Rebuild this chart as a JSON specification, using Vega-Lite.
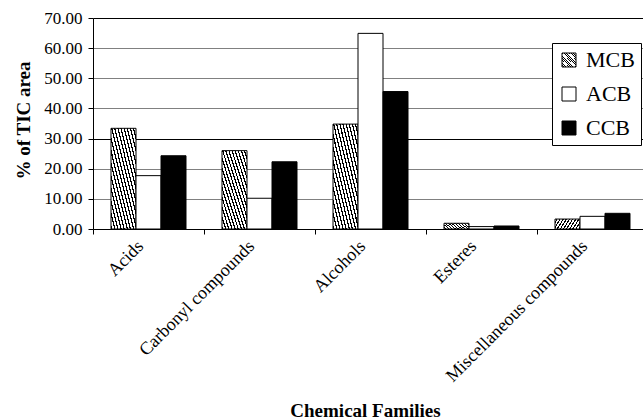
{
  "$schema": "https://vega.github.io/schema/vega-lite/v6.json",
  "autosize": {"type": "none"},
  "padding": {"left": 93, "top": 18, "right": 0, "bottom": 190},
  "width": 550,
  "height": 211,
  "background": "white",
  "config": {
    "view": {"stroke": null},
    "font": "Liberation Serif"
  },
  "data": {
    "values": [
      {"family": "Acids", "series": "MCB", "value": 33.4},
      {"family": "Acids", "series": "ACB", "value": 17.7},
      {"family": "Acids", "series": "CCB", "value": 24.3},
      {"family": "Carbonyl compounds", "series": "MCB", "value": 26.0},
      {"family": "Carbonyl compounds", "series": "ACB", "value": 10.2},
      {"family": "Carbonyl compounds", "series": "CCB", "value": 22.3},
      {"family": "Alcohols", "series": "MCB", "value": 34.8},
      {"family": "Alcohols", "series": "ACB", "value": 64.9},
      {"family": "Alcohols", "series": "CCB", "value": 45.6},
      {"family": "Esteres", "series": "MCB", "value": 1.9},
      {"family": "Esteres", "series": "ACB", "value": 0.8},
      {"family": "Esteres", "series": "CCB", "value": 1.0},
      {"family": "Miscellaneous compounds", "series": "MCB", "value": 3.3},
      {"family": "Miscellaneous compounds", "series": "ACB", "value": 4.2},
      {"family": "Miscellaneous compounds", "series": "CCB", "value": 5.2}
    ]
  },
  "mark": {"type": "bar", "stroke": "black", "strokeWidth": 1, "opacity": 1},
  "encoding": {
    "x": {
      "field": "family",
      "type": "nominal",
      "sort": null,
      "scale": {"range": [0, 555], "paddingInner": 0, "paddingOuter": 0},
      "axis": {
        "title": "Chemical Families",
        "titleFont": "Liberation Serif",
        "titleFontSize": 19,
        "titleFontWeight": "bold",
        "titleColor": "black",
        "titleX": 272,
        "titleY": 187,
        "titleBaseline": "alphabetic",
        "titleAlign": "center",
        "bandPosition": 0,
        "labelOffset": -14,
        "labelAngle": -45,
        "labelAlign": "right",
        "labelBaseline": "top",
        "labelFont": "Liberation Serif",
        "labelFontSize": 18,
        "labelColor": "black",
        "labelPadding": 3,
        "labelOverlap": false,
        "labelLimit": 0,
        "domainColor": "black",
        "tickColor": "black",
        "tickSize": 5,
        "grid": false
      }
    },
    "xOffset": {
      "field": "series",
      "type": "nominal",
      "sort": ["MCB", "ACB", "CCB"],
      "scale": {"paddingInner": 0, "paddingOuter": 0.72}
    },
    "y": {
      "field": "value",
      "type": "quantitative",
      "scale": {"domain": [0, 70], "nice": false},
      "axis": {
        "values": [0, 10, 20, 30, 40, 50, 60, 70],
        "format": ".2f",
        "title": "% of TIC area",
        "titleFont": "Liberation Serif",
        "titleFontSize": 19,
        "titleFontWeight": "bold",
        "titleColor": "black",
        "titleX": -70,
        "titleY": 102,
        "titleAngle": -90,
        "titleAlign": "center",
        "titleBaseline": "middle",
        "labelFont": "Liberation Serif",
        "labelFontSize": 17,
        "labelColor": "black",
        "labelPadding": 6,
        "domainColor": "black",
        "tickColor": "black",
        "tickSize": 5,
        "grid": true,
        "gridColor": {"condition": {"test": "datum.value === 30 || datum.value === 70", "value": "#000000"}, "value": "#808080"},
        "gridWidth": 1
      }
    },
    "fill": {
      "field": "series",
      "type": "nominal",
      "sort": ["MCB", "ACB", "CCB"],
      "scale": {
        "domain": ["MCB", "ACB", "CCB"],
        "range": [
          {"expr": "{gradient: 'linear', x1: 0, y1: 1, x2: 1, y2: 0, stops: [{offset: 0, color: 'black'}, {offset: 0.025, color: 'black'}, {offset: 0.025, color: 'white'}, {offset: 0.0625, color: 'white'}, {offset: 0.0625, color: 'black'}, {offset: 0.0875, color: 'black'}, {offset: 0.0875, color: 'white'}, {offset: 0.125, color: 'white'}, {offset: 0.125, color: 'black'}, {offset: 0.15, color: 'black'}, {offset: 0.15, color: 'white'}, {offset: 0.1875, color: 'white'}, {offset: 0.1875, color: 'black'}, {offset: 0.2125, color: 'black'}, {offset: 0.2125, color: 'white'}, {offset: 0.25, color: 'white'}, {offset: 0.25, color: 'black'}, {offset: 0.275, color: 'black'}, {offset: 0.275, color: 'white'}, {offset: 0.3125, color: 'white'}, {offset: 0.3125, color: 'black'}, {offset: 0.3375, color: 'black'}, {offset: 0.3375, color: 'white'}, {offset: 0.375, color: 'white'}, {offset: 0.375, color: 'black'}, {offset: 0.4, color: 'black'}, {offset: 0.4, color: 'white'}, {offset: 0.4375, color: 'white'}, {offset: 0.4375, color: 'black'}, {offset: 0.4625, color: 'black'}, {offset: 0.4625, color: 'white'}, {offset: 0.5, color: 'white'}, {offset: 0.5, color: 'black'}, {offset: 0.525, color: 'black'}, {offset: 0.525, color: 'white'}, {offset: 0.5625, color: 'white'}, {offset: 0.5625, color: 'black'}, {offset: 0.5875, color: 'black'}, {offset: 0.5875, color: 'white'}, {offset: 0.625, color: 'white'}, {offset: 0.625, color: 'black'}, {offset: 0.65, color: 'black'}, {offset: 0.65, color: 'white'}, {offset: 0.6875, color: 'white'}, {offset: 0.6875, color: 'black'}, {offset: 0.7125, color: 'black'}, {offset: 0.7125, color: 'white'}, {offset: 0.75, color: 'white'}, {offset: 0.75, color: 'black'}, {offset: 0.775, color: 'black'}, {offset: 0.775, color: 'white'}, {offset: 0.8125, color: 'white'}, {offset: 0.8125, color: 'black'}, {offset: 0.8375, color: 'black'}, {offset: 0.8375, color: 'white'}, {offset: 0.875, color: 'white'}, {offset: 0.875, color: 'black'}, {offset: 0.9, color: 'black'}, {offset: 0.9, color: 'white'}, {offset: 0.9375, color: 'white'}, {offset: 0.9375, color: 'black'}, {offset: 0.9625, color: 'black'}, {offset: 0.9625, color: 'white'}, {offset: 1, color: 'white'}]}"},
          "#ffffff",
          "#000000"
        ]
      },
      "legend": {
        "title": null,
        "orient": "none",
        "legendX": 459,
        "legendY": 25,
        "direction": "vertical",
        "padding": 6,
        "fillColor": "white",
        "strokeColor": "black",
        "symbolType": "square",
        "symbolSize": 196,
        "symbolStrokeColor": "black",
        "symbolStrokeWidth": 1,
        "symbolOpacity": 1,
        "labelFont": "Liberation Serif",
        "labelFontSize": 22,
        "labelColor": "black",
        "labelOffset": 6,
        "rowPadding": 12,
        "labelLimit": 0
      }
    }
  }
}
